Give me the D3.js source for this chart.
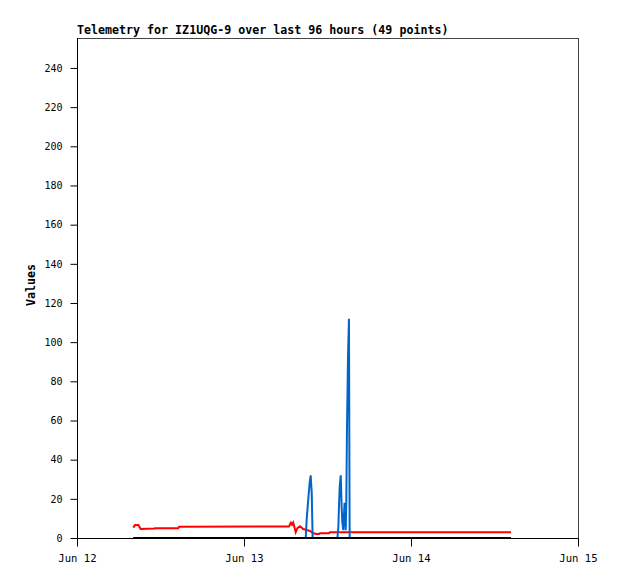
<!DOCTYPE html>
<html><head><meta charset="utf-8">
<script src="https://cdn.jsdelivr.net/npm/d3@7"></script>
<style>
html,body{margin:0;padding:0;background:#fff;}
text{font-family:"DejaVu Sans Mono",monospace;}
</style></head>
<body><svg id="c" width="618" height="579"></svg>
<script>
const titleText = "Telemetry for IZ1UQG-9 over last 96 hours (49 points)";
const yLabel = "Values";
const yTicks = [0,20,40,60,80,100,120,140,160,180,200,220,240];
const xTickDates = ["2024-06-12 00:00","2024-06-13 00:00","2024-06-14 00:00","2024-06-15 00:00"];
const xTickLabels = ["Jun 12","Jun 13","Jun 14","Jun 15"];

const redTimes = ["2024-06-12 08:05","2024-06-12 08:20","2024-06-12 08:49","2024-06-12 09:09","2024-06-12 11:06","2024-06-12 11:12","2024-06-12 14:33","2024-06-12 14:40","2024-06-13 06:28","2024-06-13 06:45","2024-06-13 06:54","2024-06-13 07:05","2024-06-13 07:26","2024-06-13 07:40","2024-06-13 08:03","2024-06-13 08:31","2024-06-13 09:00","2024-06-13 09:29","2024-06-13 09:58","2024-06-13 10:27","2024-06-13 10:47","2024-06-13 10:55","2024-06-13 12:12","2024-06-13 12:21","2024-06-14 14:22"];
const redValues = [5.3,6.6,6.6,4.6,4.8,5.0,5.0,5.7,5.9,7.8,6.8,7.9,2.9,5.0,6.0,4.6,4.1,3.6,2.4,2.0,2.0,2.4,2.4,2.9,2.9];

const blueTimes = ["2024-06-12 08:05","2024-06-13 08:52","2024-06-13 09:01","2024-06-13 09:09","2024-06-13 09:18","2024-06-13 09:26","2024-06-13 09:35","2024-06-13 09:44","2024-06-13 09:49","2024-06-13 09:52","2024-06-13 13:25","2024-06-13 13:33","2024-06-13 13:39","2024-06-13 13:45","2024-06-13 13:54","2024-06-13 14:02","2024-06-13 14:08","2024-06-13 14:16","2024-06-13 14:27","2024-06-13 14:37","2024-06-13 14:42","2024-06-13 14:48","2024-06-13 14:57","2024-06-13 15:05","2024-06-13 15:11","2024-06-14 14:22"];
const blueValues = [0,0,10,16,22.5,28,32,23,8,0,0,5,16,26,32,16,8,4,18,4,18,56,93,112,0,0];

const blackTimes = ["2024-06-12 08:05","2024-06-14 14:22"];
const blackValues = [0,0];

const parse = d3.timeParse("%Y-%m-%d %H:%M");
const svg = d3.select("#c");
const L=77, R=578, T=38, B=538;
const x = d3.scaleTime().domain([parse(xTickDates[0]), parse(xTickDates[3])]).range([L,R]);
const y = d3.scaleLinear().domain([0,255.3]).range([B,T]);

svg.append("line").attr("x1",L).attr("x2",R).attr("y1",T+0.5).attr("y2",T+0.5).attr("stroke","#444");
svg.append("line").attr("x1",R+0.5).attr("x2",R+0.5).attr("y1",T).attr("y2",B+8).attr("stroke","#444");

const ya = svg.append("g").attr("transform",`translate(${L+0.5},0)`)
  .call(d3.axisLeft(y).tickValues(yTicks).tickSize(7).tickPadding(8).tickSizeOuter(0));
ya.select(".domain").attr("d",`M0,${T}V${B+8}`).attr("stroke","#000");
ya.selectAll(".tick line").attr("stroke","#000");
ya.selectAll("text").attr("font-family","DejaVu Sans Mono").attr("font-size","10px").attr("fill","#000");

const xa = svg.append("g").attr("transform",`translate(0,${B+0.5})`)
  .call(d3.axisBottom(x).tickValues(xTickDates.map(parse)).tickFormat((d,i)=>xTickLabels[i]).tickSize(8).tickPadding(8).tickSizeOuter(0));
xa.select(".domain").attr("d",`M${L},0H${R}`).attr("stroke","#000");
xa.selectAll(".tick line").attr("stroke","#000");
xa.selectAll("text").attr("font-family","DejaVu Sans Mono").attr("font-size","10.6px").attr("fill","#000");

const line = d3.line().x(d=>x(d[0])).y(d=>y(d[1]));
function series(times, vals, color){
  svg.append("path").datum(times.map((t,i)=>[parse(t),vals[i]]))
    .attr("d",line).attr("fill","none").attr("stroke",color).attr("stroke-width",2)
    .attr("stroke-linejoin","miter");
}
series(redTimes, redValues, "#ff0000");
series(blueTimes, blueValues, "#0066cc");
series(blackTimes, blackValues, "#000000");

svg.append("text").attr("x",L).attr("y",34).attr("font-size","11.65px").attr("font-weight","bold").text(titleText);
svg.append("text").attr("transform","translate(35,285) rotate(-90)").attr("text-anchor","middle")
  .attr("font-size","11.65px").attr("font-weight","bold").text(yLabel);
</script></body></html>
